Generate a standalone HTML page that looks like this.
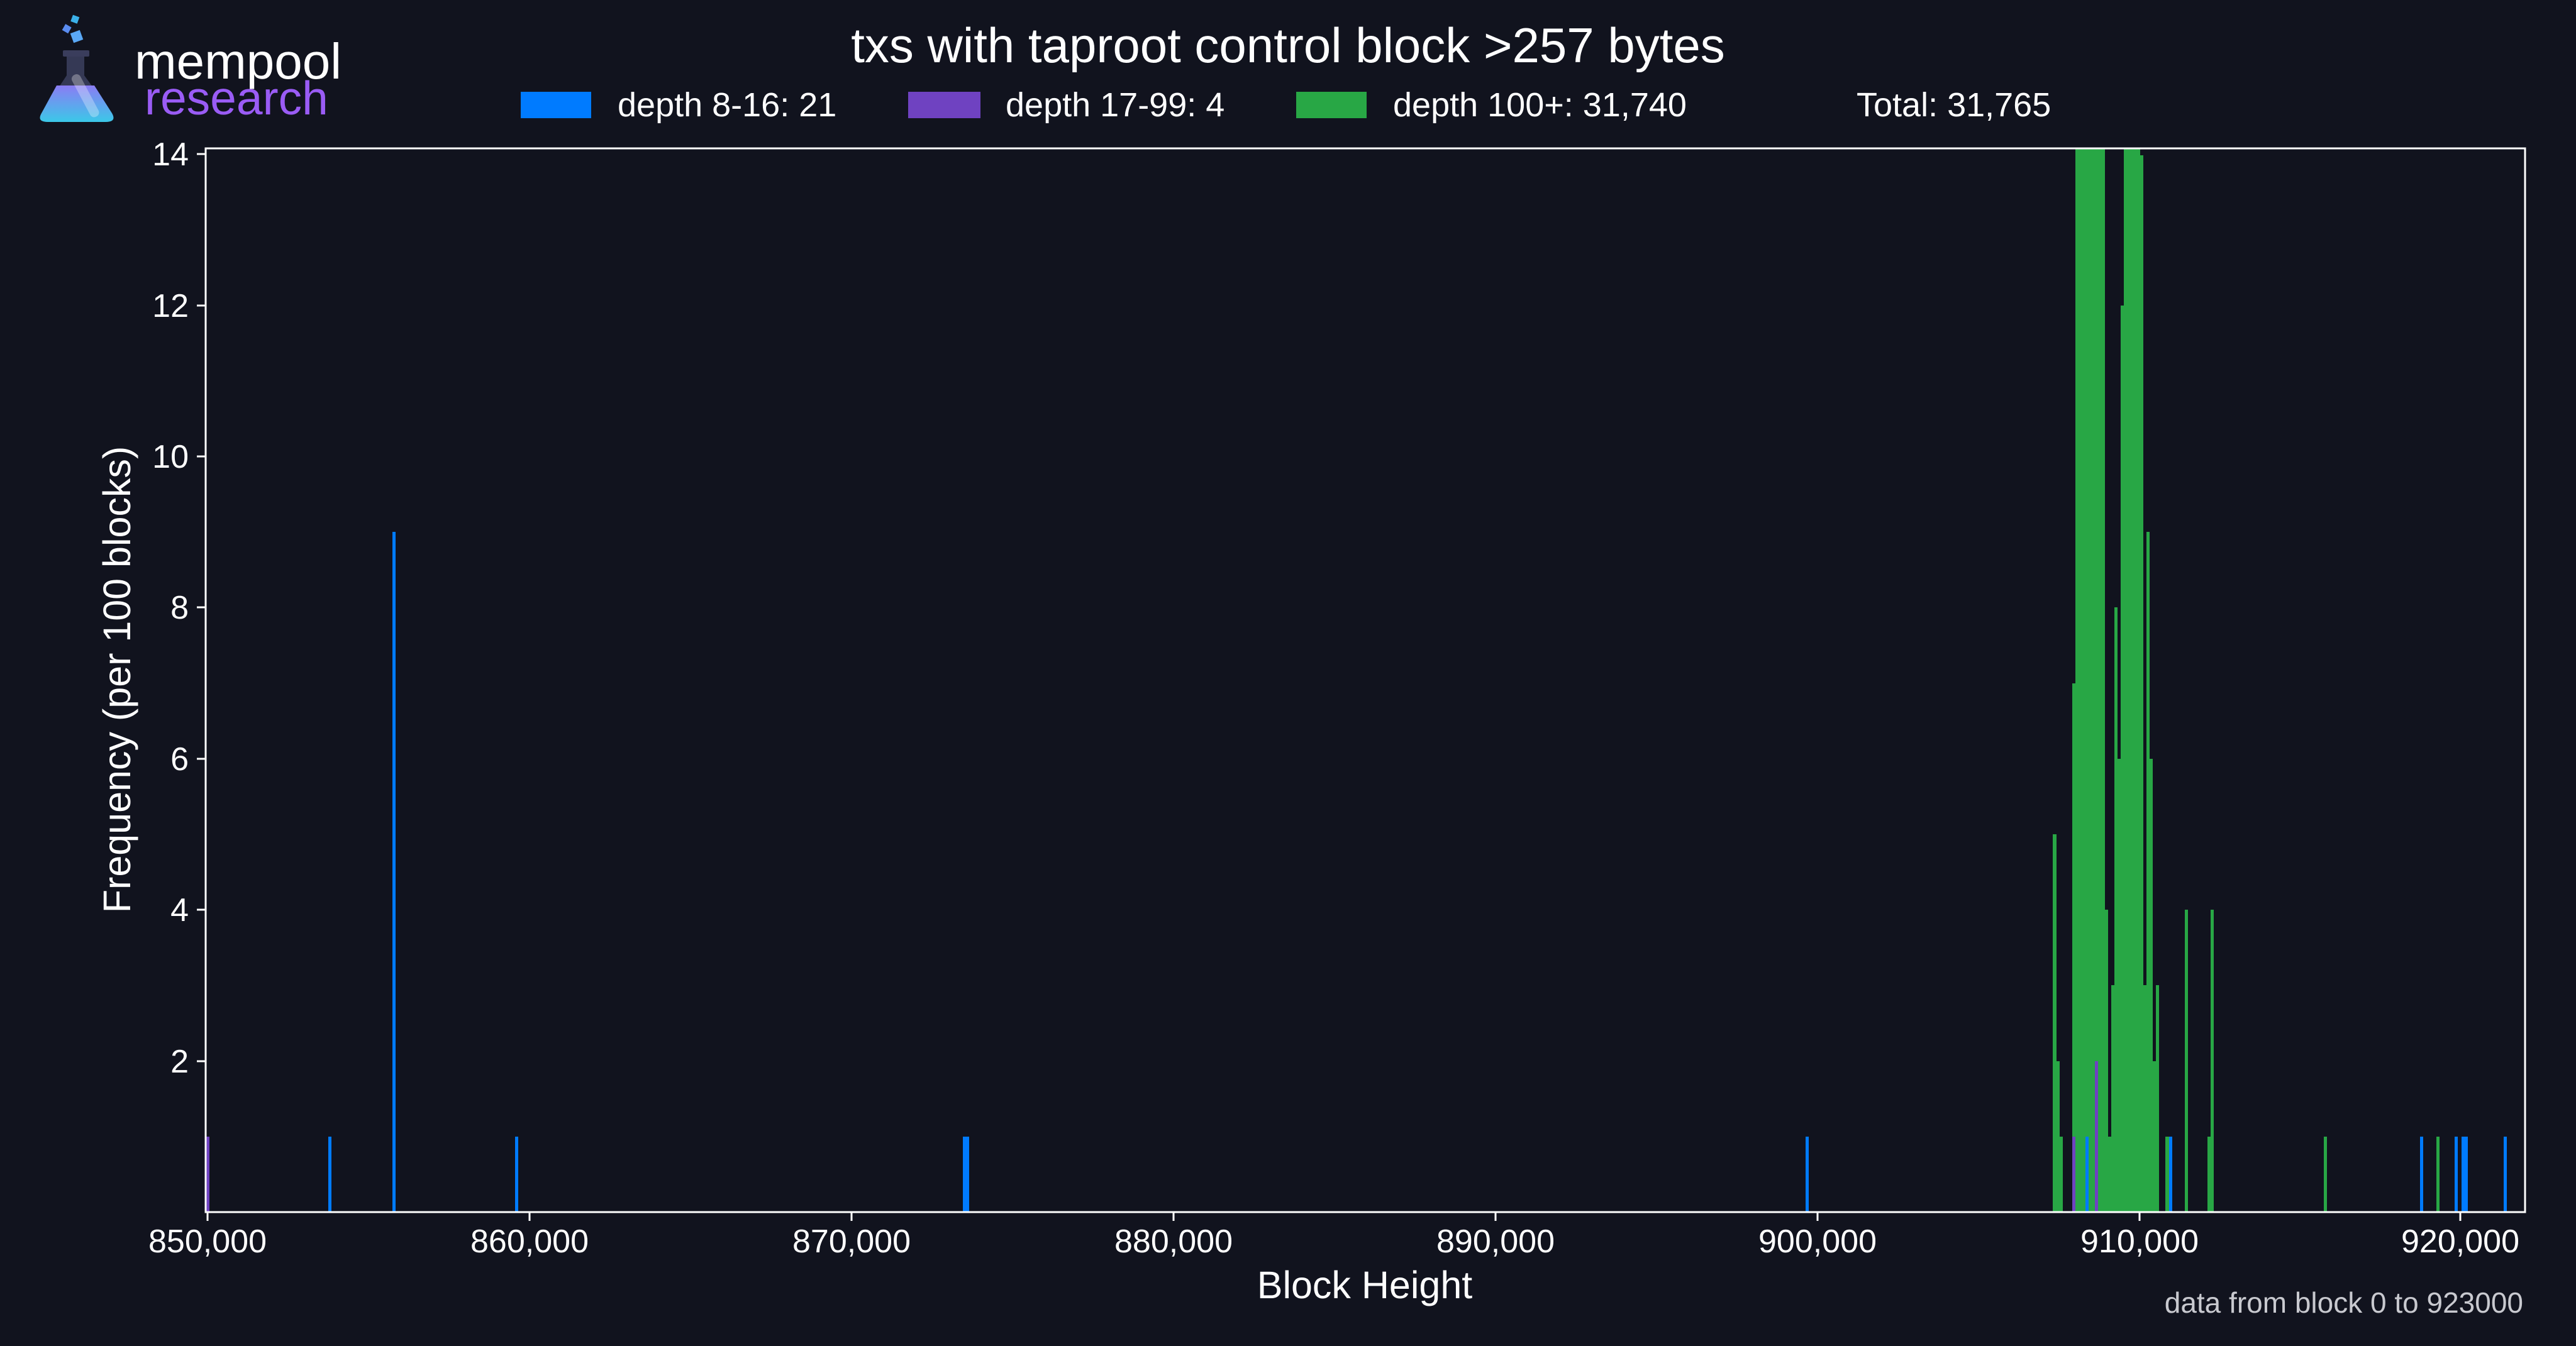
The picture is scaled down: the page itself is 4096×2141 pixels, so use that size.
<!DOCTYPE html>
<html><head><meta charset="utf-8"><style>
html,body{margin:0;padding:0;background:#11131e;}
svg{display:block}
text{font-family:"Liberation Sans",Arial,sans-serif;fill:#fff}
</style></head><body>
<svg width="4096" height="2141" viewBox="0 0 4096 2141" xmlns="http://www.w3.org/2000/svg">
<rect width="4096" height="2141" fill="#11131e"/>
<g>
<rect x="114" y="25" width="11" height="11" fill="#3bb0e8" transform="rotate(20 119 30)"/>
<rect x="101" y="40" width="11" height="11" fill="#5a8cf0" transform="rotate(30 106 45)"/>
<rect x="114" y="50" width="16" height="16" fill="#5aa8f5" transform="rotate(-20 122 58)"/>
<rect x="100" y="80" width="42" height="10" rx="2" fill="#3a3d5c"/>
<path d="M106 90 L134 90 L134 120 L178 180 Q186 194 168 194 L76 194 Q58 194 66 180 L106 120 Z" fill="#353955"/>
<defs><linearGradient id="lg" x1="0" y1="0" x2="0" y2="1"><stop offset="0" stop-color="#8b7cf4"/><stop offset="1" stop-color="#3bc8e8"/></linearGradient></defs>
<path d="M90 136 L150 136 L178 180 Q186 194 168 194 L76 194 Q58 194 66 180 Z" fill="url(#lg)"/>
<rect x="128" y="115" width="15" height="75" rx="7" fill="#ffffff" opacity="0.3" transform="rotate(-28 135 152)"/>
</g>
<text x="214" y="125" font-size="80">mempool</text>
<text x="230" y="182" font-size="75" style="fill:#9a5cf5">research</text>
<text x="2048" y="99" font-size="78" text-anchor="middle">txs with taproot control block &gt;257 bytes</text>
<rect x="828" y="146" width="112" height="42" fill="#007bff"/>
<text x="982" y="185" font-size="54">depth 8-16: 21</text>
<rect x="1444" y="146" width="115" height="42" fill="#6f42c1"/>
<text x="1599" y="185" font-size="54">depth 17-99: 4</text>
<rect x="2061" y="146" width="112" height="42" fill="#28a745"/>
<text x="2215" y="185" font-size="54">depth 100+: 31,740</text>
<text x="2952" y="185" font-size="54">Total: 31,765</text>
<g>
<rect x="3264" y="1327" width="6" height="601" fill="#28a745"/>
<rect x="3270" y="1688" width="5" height="240" fill="#28a745"/>
<rect x="3275" y="1808" width="5" height="120" fill="#28a745"/>
<rect x="3295" y="1087" width="5" height="841" fill="#28a745"/>
<rect x="3300" y="236" width="47" height="1692" fill="#28a745"/>
<rect x="3347" y="1447" width="5" height="481" fill="#28a745"/>
<rect x="3352" y="1808" width="5" height="120" fill="#28a745"/>
<rect x="3357" y="1567" width="5" height="361" fill="#28a745"/>
<rect x="3362" y="966" width="5" height="962" fill="#28a745"/>
<rect x="3367" y="1207" width="5" height="721" fill="#28a745"/>
<rect x="3372" y="486" width="5" height="1442" fill="#28a745"/>
<rect x="3377" y="236" width="26" height="1692" fill="#28a745"/>
<rect x="3403" y="247" width="5" height="1681" fill="#28a745"/>
<rect x="3408" y="1567" width="5" height="361" fill="#28a745"/>
<rect x="3413" y="846" width="5" height="1082" fill="#28a745"/>
<rect x="3418" y="1207" width="5" height="721" fill="#28a745"/>
<rect x="3423" y="1688" width="5" height="240" fill="#28a745"/>
<rect x="3428" y="1567" width="5" height="361" fill="#28a745"/>
<rect x="3443" y="1808" width="6" height="120" fill="#28a745"/>
<rect x="3474" y="1447" width="5" height="481" fill="#28a745"/>
<rect x="3510" y="1808" width="5" height="120" fill="#28a745"/>
<rect x="3515" y="1447" width="5" height="481" fill="#28a745"/>
<rect x="3695" y="1808" width="5" height="120" fill="#28a745"/>
<rect x="3874" y="1808" width="5" height="120" fill="#28a745"/>
<rect x="328" y="1808" width="5" height="120" fill="#6f42c1"/>
<rect x="3295" y="1808" width="5" height="120" fill="#6f42c1"/>
<rect x="3331" y="1688" width="5" height="240" fill="#6f42c1"/>
<rect x="522" y="1808" width="5" height="120" fill="#007bff"/>
<rect x="624" y="846" width="5" height="1082" fill="#007bff"/>
<rect x="819" y="1808" width="5" height="120" fill="#007bff"/>
<rect x="1531" y="1808" width="10" height="120" fill="#007bff"/>
<rect x="2871" y="1808" width="5" height="120" fill="#007bff"/>
<rect x="3316" y="1808" width="5" height="120" fill="#007bff"/>
<rect x="3449" y="1808" width="5" height="120" fill="#007bff"/>
<rect x="3848" y="1808" width="5" height="120" fill="#007bff"/>
<rect x="3903" y="1808" width="5" height="120" fill="#007bff"/>
<rect x="3914" y="1808" width="10" height="120" fill="#007bff"/>
<rect x="3981" y="1808" width="5" height="120" fill="#007bff"/>
</g>
<rect x="327" y="236" width="3688" height="1692" fill="none" stroke="#fff" stroke-width="3"/>
<g stroke="#fff" stroke-width="3">
<line x1="330" y1="1928" x2="330" y2="1942"/>
<line x1="842" y1="1928" x2="842" y2="1942"/>
<line x1="1354" y1="1928" x2="1354" y2="1942"/>
<line x1="1866" y1="1928" x2="1866" y2="1942"/>
<line x1="2378" y1="1928" x2="2378" y2="1942"/>
<line x1="2890" y1="1928" x2="2890" y2="1942"/>
<line x1="3402" y1="1928" x2="3402" y2="1942"/>
<line x1="3912" y1="1928" x2="3912" y2="1942"/>
<line x1="313" y1="1688" x2="327" y2="1688"/>
<line x1="313" y1="1447" x2="327" y2="1447"/>
<line x1="313" y1="1207" x2="327" y2="1207"/>
<line x1="313" y1="966" x2="327" y2="966"/>
<line x1="313" y1="726" x2="327" y2="726"/>
<line x1="313" y1="486" x2="327" y2="486"/>
<line x1="313" y1="245" x2="327" y2="245"/>
</g>
<g font-size="52" text-anchor="middle">
<text x="330" y="1992">850,000</text>
<text x="842" y="1992">860,000</text>
<text x="1354" y="1992">870,000</text>
<text x="1866" y="1992">880,000</text>
<text x="2378" y="1992">890,000</text>
<text x="2890" y="1992">900,000</text>
<text x="3402" y="1992">910,000</text>
<text x="3912" y="1992">920,000</text>
</g>
<g font-size="52" text-anchor="end">
<text x="300" y="1706">2</text>
<text x="300" y="1465">4</text>
<text x="300" y="1225">6</text>
<text x="300" y="984">8</text>
<text x="300" y="744">10</text>
<text x="300" y="504">12</text>
<text x="300" y="263">14</text>
</g>
<text x="2170" y="2065" font-size="61" text-anchor="middle">Block Height</text>
<text transform="translate(207 1081) rotate(-90)" font-size="61" text-anchor="middle">Frequency (per 100 blocks)</text>
<text x="4012" y="2088" font-size="46" text-anchor="end" style="fill:#c8c9cf">data from block 0 to 923000</text>
</svg>
</body></html>
